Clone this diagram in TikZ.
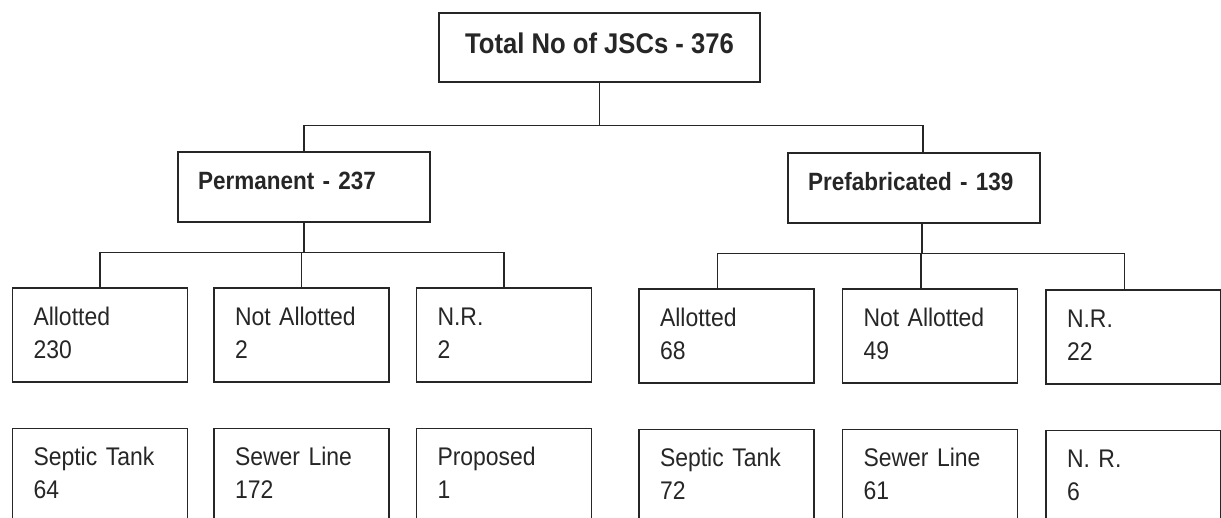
\documentclass[tikz,border=0pt]{standalone}
\usepackage{fontspec}
\setmainfont{Liberation Sans}[FakeStretch=0.9]
\usepackage{tikz}
\usetikzlibrary{positioning}
\definecolor{inkgrey}{RGB}{38,38,38}

\begin{document}
\begin{tikzpicture}[x=1pt, y=-1pt, line width=1.3pt, color=inkgrey,
  topbox/.style={draw, minimum width=321pt, inner ysep=0pt, text height=40pt, text depth=29pt,
    font=\fontsize{28.5}{32}\selectfont\bfseries},
  groupbox/.style={draw, inner xsep=20pt, inner ysep=0pt, text width=212pt, text height=37pt, text depth=33pt,
    font=\fontsize{25}{30}\selectfont\bfseries},
  countbox/.style={draw, inner xsep=21pt, text width=133pt, minimum height=94pt, align=left,
    font=\fontsize{25.5}{33}\selectfont}]
\useasboundingbox (0,0) rectangle (1221,517);

% top of the tree
\node[topbox] (total) at (599.5,47.5) {Total No of JSCs - 376};
\node[groupbox] (perm) at (304,187) {\mbox{Permanent - 237}};
\node[groupbox] (prefab) at (914,188) {\mbox{Prefabricated - 139}};

% allotment row
\node[countbox] (pallot) at (100,335) {\strut Allotted\\\strut 230};
\node[countbox] (pnot) at (301.5,335) {\strut Not Allotted\\\strut 2};
\node[countbox] (pnr) at (504,335) {\strut N.R.\\\strut 2};
\node[countbox] (fallot) at (726.5,336) {\strut Allotted\\\strut 68};
\node[countbox] (fnot) at (930,336) {\strut Not Allotted\\\strut 49};
\node[countbox] (fnr) at (1133.5,337) {\strut N.R.\\\strut 22};

% sanitation row
\node[countbox, below=45pt of pallot] (pseptic) {\strut Septic Tank\\\strut 64};
\node[countbox, below=45pt of pnot] (psewer) {\strut Sewer Line\\\strut 172};
\node[countbox, below=45pt of pnr] (pprop) {\strut Proposed\\\strut 1};
\node[countbox, below=45pt of fallot] (fseptic) {\strut Septic Tank\\\strut 72};
\node[countbox, below=45pt of fnot] (fsewer) {\strut Sewer Line\\\strut 61};
\node[countbox, below=45pt of fnr] (fnrb) {\strut N. R.\\\strut 6};

% connectors
\draw (total.south) -- ++(0,43) -| (perm.north);
\draw (total.south) -- ++(0,43) -| ([xshift=9pt]prefab.north);
\foreach \kid in {pallot,pnot,pnr}
  \draw (perm.south) -- ++(0,30) -| (\kid.north);
\foreach \kid in {fallot,fnot,fnr}
  \draw ([xshift=8pt]prefab.south) -- ++(0,30) -| ([xshift=-9pt]\kid.north);
\end{tikzpicture}
\end{document}
